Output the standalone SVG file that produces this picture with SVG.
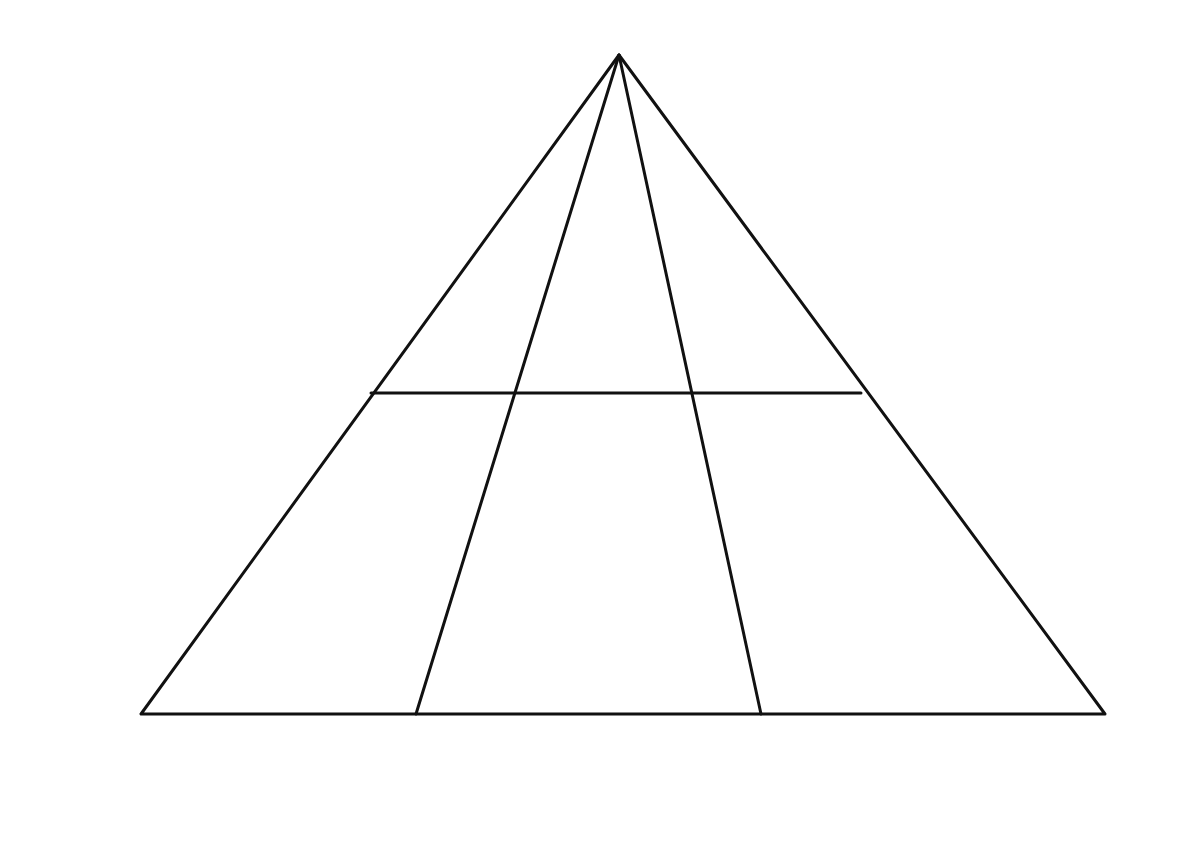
<svg xmlns="http://www.w3.org/2000/svg" width="1200" height="859" viewBox="0 0 1200 859">
<style>
.ln{stroke:#111;stroke-width:3;fill:none;stroke-linecap:round;stroke-linejoin:round}
</style>
<rect width="1200" height="859" fill="#fff"/>
<g id="connectors">
<polygon class="ln" points="619,55 141,714 1105,714"/>
<line class="ln" x1="619" y1="55" x2="416" y2="714"/>
<line class="ln" x1="619" y1="55" x2="761" y2="714"/>
<line class="ln" x1="371" y1="393" x2="861" y2="393"/>
</g>
</svg>
